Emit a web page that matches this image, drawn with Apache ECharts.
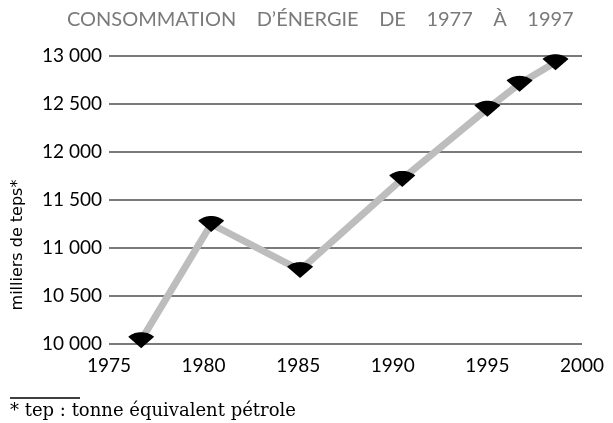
<!DOCTYPE html>
<html>
<head>
<meta charset="utf-8">
<script src="https://cdn.jsdelivr.net/npm/echarts@6/dist/echarts.min.js"></script>
<style>
html,body{margin:0;padding:0;background:#fff;}
#c{width:613px;height:423px;}
</style>
</head>
<body>
<div id="c"></div>
<script>
var years = [1976.7, 1980.4, 1985.1, 1990.5, 1995.0, 1996.7, 1998.6];
var consumption = [10040, 11250, 10770, 11720, 12450, 12710, 12935];
var yTicks = [10000, 10500, 11000, 11500, 12000, 12500, 13000];
var xTicks = [1975, 1980, 1985, 1990, 1995, 2000];
var titleText = 'CONSOMMATION    D\u2019\u00C9NERGIE    DE    1977    \u00C0    1997';
var yAxisName = 'milliers de teps*';
var footnote = '* tep : tonne \u00E9quivalent p\u00E9trole';

var fontFam = 'Lato, "Open Sans", sans-serif';

// fan-shaped marker: tip at bottom, arc on top
function fanPath() {
  var R = 100, pts = [];
  for (var a = -45; a <= 45; a += 5) {
    var r = a * Math.PI / 180;
    pts.push((R * Math.sin(r)).toFixed(2) + ',' + (-R * Math.cos(r)).toFixed(2));
  }
  return 'path://M0,0 L' + pts.join(' L') + ' Z';
}
var fan = fanPath();

var chart = echarts.init(document.getElementById('c'), null, {renderer: 'canvas'});
chart.setOption({
  animation: false,
  backgroundColor: '#ffffff',
  title: {
    text: titleText,
    left: 62,
    top: 5,
    textStyle: {color: '#7a7a7a', fontFamily: fontFam, fontSize: 20, fontWeight: 'normal'}
  },
  grid: {left: 109, right: 31, top: 56, bottom: 79},
  xAxis: {
    type: 'value',
    min: xTicks[0],
    max: xTicks[xTicks.length - 1],
    interval: 5,
    axisLine: {show: false},
    axisTick: {show: false},
    splitLine: {show: false},
    axisLabel: {color: '#000', fontFamily: fontFam, fontSize: 19, margin: 12,
      formatter: function (v) { return String(v); }}
  },
  yAxis: {
    type: 'value',
    min: yTicks[0],
    max: yTicks[yTicks.length - 1],
    interval: 500,
    axisLine: {show: false},
    axisTick: {show: false},
    splitLine: {show: true, lineStyle: {color: '#7a7a7a', width: 2}},
    axisLabel: {
      color: '#000', fontFamily: fontFam, fontSize: 19, margin: 7,
      formatter: function (v) { return String(v).replace(/\B(?=(\d{3})+(?!\d))/g, ' '); }
    }
  },
  series: [{
    type: 'line',
    data: years.map(function (y, i) { return [y, consumption[i]]; }),
    lineStyle: {color: '#bdbdbd', width: 7},
    itemStyle: {color: '#000'},
    symbol: fan,
    symbolSize: [26, 16],
    showAllSymbol: true,
    clip: false,
    z: 3
  }],
  graphic: [
    {type: 'text', x: 18, y: 245, rotation: Math.PI / 2,
      style: {text: yAxisName, fill: '#000', font: '16px "DejaVu Sans", sans-serif', align: 'center', verticalAlign: 'middle'}},
    {type: 'line', shape: {x1: 10, y1: 398, x2: 80, y2: 398}, style: {stroke: '#000', lineWidth: 1.5}},
    {type: 'text', left: 10, top: 402, style: {text: footnote, fill: '#000', font: '18px "DejaVu Serif", serif'}}
  ]
});
</script>
</body>
</html>
